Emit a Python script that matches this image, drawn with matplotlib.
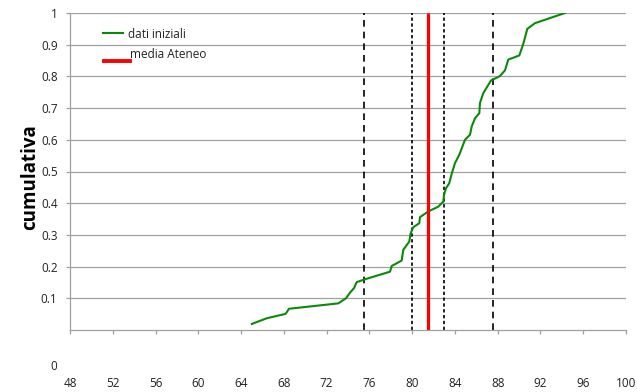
import matplotlib
matplotlib.use("Agg")
import matplotlib.pyplot as plt
from matplotlib.lines import Line2D

# cumulative curve
voto = [65.0, 66.4, 68.17, 68.48, 73.09, 73.81, 74.19, 74.56, 74.81, 75.59,
        77.93, 78.09, 79.02, 79.17, 79.73, 79.86, 80.10, 80.67, 80.73, 81.51,
        82.44, 82.91, 82.98, 83.16, 83.47, 83.70, 84.0, 84.41, 84.94, 85.41,
        85.57, 85.88, 86.28, 86.34, 86.65, 87.37, 88.21, 88.68, 88.99, 90.02,
        90.39, 90.77, 91.49, 94.29]
cumulativa = [0.019, 0.037, 0.051, 0.067, 0.084, 0.100, 0.118, 0.132, 0.151, 0.160,
              0.184, 0.202, 0.219, 0.253, 0.279, 0.305, 0.324, 0.337, 0.356, 0.374,
              0.389, 0.405, 0.426, 0.447, 0.463, 0.493, 0.526, 0.553, 0.600, 0.616,
              0.642, 0.668, 0.684, 0.716, 0.747, 0.787, 0.801, 0.819, 0.853, 0.866,
              0.902, 0.950, 0.968, 1.0]

media = 81.5
lim_esterni = [75.5, 87.6]
lim_interni = [80.0, 83.0]

xticks = list(range(48, 101, 4))
yticks = [0.1, 0.2, 0.3, 0.4, 0.5, 0.6, 0.7, 0.8, 0.9, 1]

plt.rcParams['font.family'] = ['Open Sans', 'DejaVu Sans']

fig = plt.figure(figsize=(6.37, 3.92), dpi=100)
ax = fig.add_axes([70/637, 1-330/392, 556/637, 317/392])
ax.set_xlim(48, 100)
ax.set_ylim(0, 1)

grigio = '#a0a0a0'
for y in yticks:
    ax.axhline(y, color=grigio, lw=0.9, zorder=1)

ax.plot(voto, cumulativa, color='#0a8a0a', lw=1.5, zorder=3)
ax.vlines(lim_esterni, 0, 1, colors='black', linestyles=(0, (4, 3)), lw=1.2, zorder=2)
ax.vlines(lim_interni, 0, 1, colors='black', linestyles=(0, (2, 1.5)), lw=1.2, zorder=2)
ax.vlines([media], 0, 1, colors='#ff0000', lw=2.3, zorder=4)

for s in ['top', 'right']:
    ax.spines[s].set_visible(False)
for s in ['left', 'bottom']:
    ax.spines[s].set_color(grigio)
    ax.spines[s].set_linewidth(0.9)

ax.set_xticks(xticks)
ax.set_xticklabels([str(v) for v in xticks])
ax.set_yticks(yticks)
ax.set_yticklabels(['1' if v == 1 else str(v) for v in yticks])
ax.tick_params(axis='both', colors=grigio, labelcolor='#222222', labelsize=8.5, length=3, width=0.9)
ax.tick_params(axis='x', pad=31)
ax.tick_params(axis='y', pad=6)

fig.text(57/637, 1-366/392, '0', ha='right', va='center', fontsize=8.5, color='#222222')
fig.text(30/637, 1-177/392, 'cumulativa', rotation=90, ha='center', va='center',
         fontsize=13.5, fontweight='bold')

# legend
fig.add_artist(Line2D([103/637, 123/637], [1-33/392, 1-33/392], color='#0a8a0a', lw=1.5))
fig.text(128/637, 1-34/392, 'dati iniziali', ha='left', va='center', fontsize=8.5, color='#222222')
fig.add_artist(Line2D([104/637, 130/637], [1-61/392, 1-61/392], color='#ff0000', lw=2.8))
fig.text(130/637, 1-55/392, 'media Ateneo', ha='left', va='center', fontsize=8.5, color='#222222')

fig.savefig('out.png', dpi=100)
